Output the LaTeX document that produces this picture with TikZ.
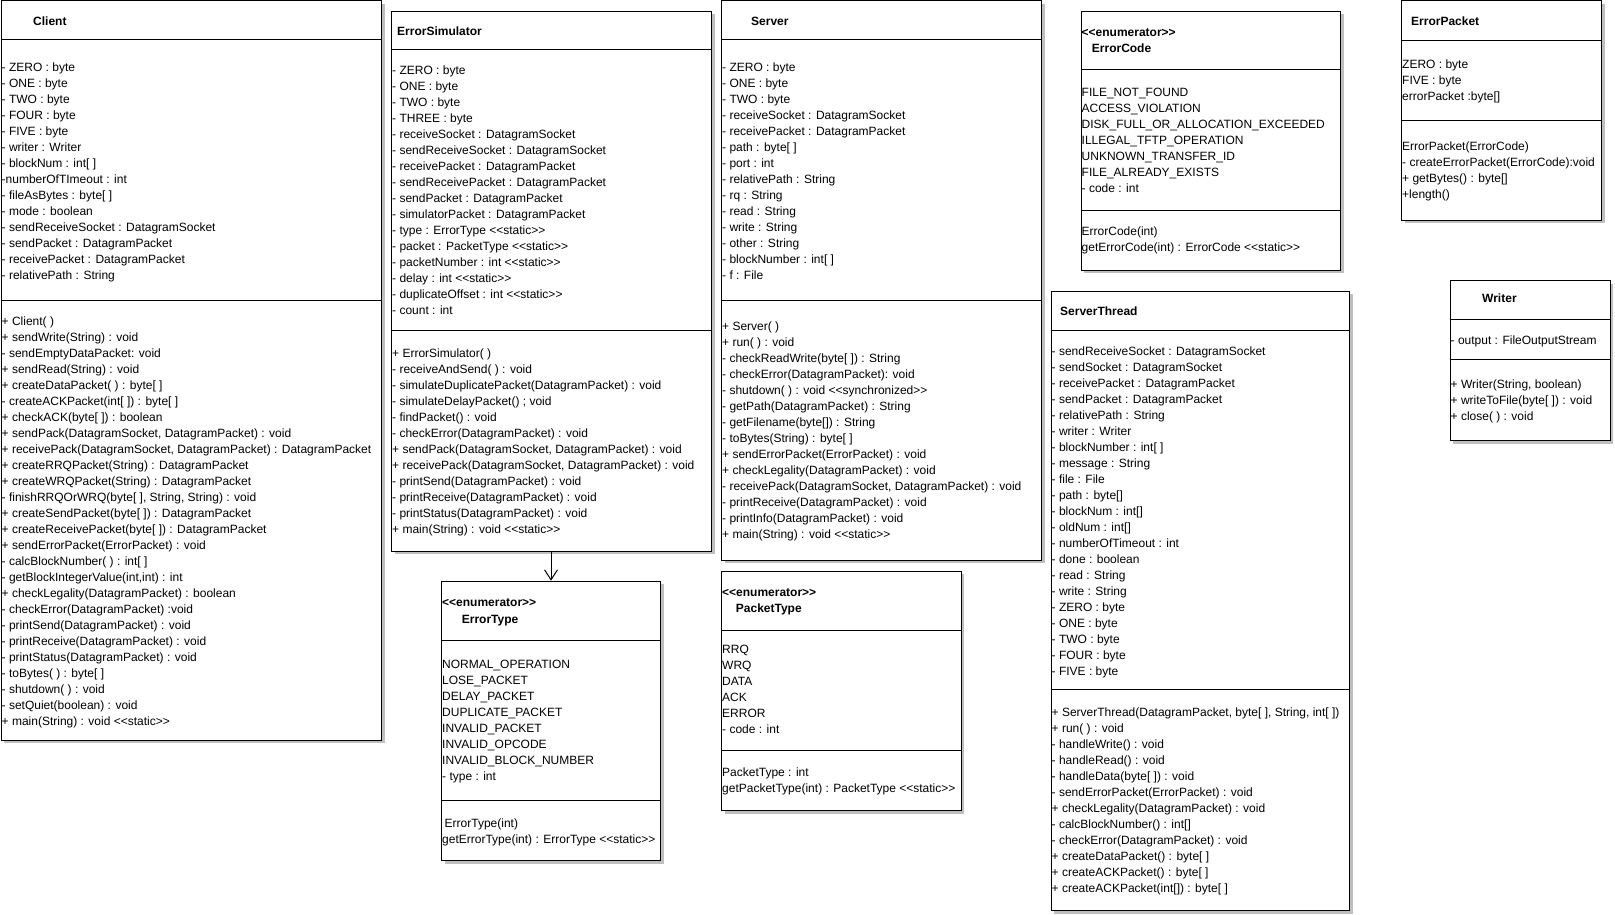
\documentclass[tikz,border=0pt]{standalone}
\usepackage{fontspec}
\newfontfamily\umlfont{Liberation Sans}
\usetikzlibrary{arrows.meta,shadows}
\newcommand\umllt{<\kern0pt<}
\newcommand\umlgt{>\kern0pt>}
\newcommand\umlst{\umllt static\umlgt}
\newcommand\umldiv[2]{\draw[divline] (#1.west |- 0,#2) -- (#1.east |- 0,#2);}
\begin{document}
\begin{tikzpicture}[x=1pt,y=-1pt,
  umlbox/.style={draw=black, line width=1pt, fill=white, inner sep=0pt, anchor=north west,
    drop shadow={shadow xshift=3pt, shadow yshift=-3pt, fill=black!25, opacity=1}},
  txt/.style={anchor=north west, inner sep=0pt, align=left, font=\umlfont\fontsize{12}{16}\selectfont},
  ttl/.style={anchor=base west, inner sep=0pt, font=\umlfont\bfseries\fontsize{12}{16}\selectfont},
  divline/.style={line width=1pt},
  arrowline/.style={line width=1pt, -{Straight Barb[length=10pt,width=13pt]}}]
\path[fill=white] (0,0) rectangle (1615,915);
\useasboundingbox (0,0) rectangle (1615,915);

% ---------------- Client
\node[umlbox, minimum width=380.5pt, minimum height=739pt] (client) at (0.5,0.5) {};
\umldiv{client}{40}
\umldiv{client}{300.5}
\node[ttl] (client-t) at (33,25.5) {Client};
\node[txt] (client-a) at (1.5,62.3) {- ZERO : byte\\- ONE : byte\\- TWO : byte\\- FOUR : byte\\- FIVE : byte\\- writer : Writer\\- blockNum : int[ ]\\-numberOfTImeout : int\\- fileAsBytes : byte[ ]\\- mode : boolean\\- sendReceiveSocket : DatagramSocket\\- sendPacket : DatagramPacket\\- receivePacket : DatagramPacket\\- relativePath : String};
\node[txt] (client-m) at (1.5,316.3) {+ Client( )\\+ sendWrite(String) : void\\- sendEmptyDataPacket: void\\+ sendRead(String) : void\\+ createDataPacket( ) : byte[ ]\\- createACKPacket(int[ ]) : byte[ ]\\+ checkACK(byte[ ]) : boolean\\+ sendPack(DatagramSocket, DatagramPacket) : void\\+ receivePack(DatagramSocket, DatagramPacket) : DatagramPacket\\+ createRRQPacket(String) : DatagramPacket\\+ createWRQPacket(String) : DatagramPacket\\- finishRRQOrWRQ(byte[ ], String, String) : void\\+ createSendPacket(byte[ ]) : DatagramPacket\\+ createReceivePacket(byte[ ]) : DatagramPacket\\+ sendErrorPacket(ErrorPacket) : void\\- calcBlockNumber( ) : int[ ]\\- getBlockIntegerValue(int,int) : int\\+ checkLegality(DatagramPacket) : boolean\\- checkError(DatagramPacket) :void\\- printSend(DatagramPacket) : void\\- printReceive(DatagramPacket) : void\\- printStatus(DatagramPacket) : void\\- toBytes( ) : byte[ ]\\- shutdown( ) : void\\- setQuiet(boolean) : void\\+ main(String) : void \umlst};

% ---------------- ErrorSimulator
\node[umlbox, minimum width=320pt, minimum height=539.8pt] (errsim) at (391,10.7) {};
\umldiv{errsim}{50}
\umldiv{errsim}{330.7}
\node[ttl] (errsim-t) at (397,35.7) {ErrorSimulator};
\node[txt] (errsim-a) at (392,66) {- ZERO : byte\\- ONE : byte\\- TWO : byte\\- THREE : byte\\- receiveSocket : DatagramSocket\\- sendReceiveSocket : DatagramSocket\\- receivePacket : DatagramPacket\\- sendReceivePacket : DatagramPacket\\- sendPacket : DatagramPacket\\- simulatorPacket : DatagramPacket\\- type : ErrorType \umlst\\- packet : PacketType \umlst\\- packetNumber : int \umlst\\- delay : int \umlst\\- duplicateOffset : int \umlst\\- count : int};
\node[txt] (errsim-m) at (392,348.3) {+ ErrorSimulator( )\\- receiveAndSend( ) : void\\- simulateDuplicatePacket(DatagramPacket) : void\\- simulateDelayPacket() ; void\\- findPacket() : void\\- checkError(DatagramPacket) : void\\+ sendPack(DatagramSocket, DatagramPacket) : void\\+ receivePack(DatagramSocket, DatagramPacket) : void\\- printSend(DatagramPacket) : void\\- printReceive(DatagramPacket) : void\\- printStatus(DatagramPacket) : void\\+ main(String) : void \umlst};

% ---------------- Server
\node[umlbox, minimum width=320pt, minimum height=559pt] (server) at (721,0.5) {};
\umldiv{server}{40}
\umldiv{server}{300.7}
\node[ttl] (server-t) at (751,25.7) {Server};
\node[txt] (server-a) at (722,63) {- ZERO : byte\\- ONE : byte\\- TWO : byte\\- receiveSocket : DatagramSocket\\- receivePacket : DatagramPacket\\- path : byte[ ]\\- port : int\\- relativePath : String\\- rq : String\\- read : String\\- write : String\\- other : String\\- blockNumber : int[ ]\\- f : File};
\node[txt] (server-m) at (722,322) {+ Server( )\\+ run( ) : void\\- checkReadWrite(byte[ ]) : String\\- checkError(DatagramPacket): void\\- shutdown( ) : void \umllt synchronized\umlgt\\- getPath(DatagramPacket) : String\\- getFilename(byte[]) : String\\- toBytes(String) : byte[ ]\\+ sendErrorPacket(ErrorPacket) : void\\+ checkLegality(DatagramPacket) : void\\- receivePack(DatagramSocket, DatagramPacket) : void\\- printReceive(DatagramPacket) : void\\- printInfo(DatagramPacket) : void\\+ main(String) : void \umlst};

% ---------------- ErrorType
\node[umlbox, minimum width=219pt, minimum height=279.3pt] (errtype) at (441,580.7) {};
\umldiv{errtype}{640}
\umldiv{errtype}{800.7}
\node[ttl] (errtype-s) at (442,606.5) {\umllt enumerator\umlgt};
\node[ttl] (errtype-t) at (461.7,623) {ErrorType};
\node[txt] (errtype-a) at (442,660.3) {NORMAL\_OPERATION\\LOSE\_PACKET\\DELAY\_PACKET\\DUPLICATE\_PACKET\\INVALID\_PACKET\\INVALID\_OPCODE\\INVALID\_BLOCK\_NUMBER\\- type : int};
\node[txt] (errtype-m) at (442,818.3) {\hspace{2.5pt}ErrorType(int)\\getErrorType(int) : ErrorType \umlst};

% ---------------- PacketType
\node[umlbox, minimum width=239.5pt, minimum height=239.5pt] (pkttype) at (721,570.5) {};
\umldiv{pkttype}{630}
\umldiv{pkttype}{750.5}
\node[ttl] (pkttype-s) at (722,596.5) {\umllt enumerator\umlgt};
\node[ttl] (pkttype-t) at (735.7,612.5) {PacketType};
\node[txt] (pkttype-a) at (722,645.3) {RRQ\\WRQ\\DATA\\ACK\\ERROR\\- code : int};
\node[txt] (pkttype-m) at (722,767.3) {PacketType : int\\getPacketType(int) : PacketType \umlst};

% ---------------- ErrorCode
\node[umlbox, minimum width=259.5pt, minimum height=258.8pt] (errcode) at (1080.5,10.7) {};
\umldiv{errcode}{70}
\umldiv{errcode}{210}
\node[ttl] (errcode-s) at (1081.5,36.3) {\umllt enumerator\umlgt};
\node[ttl] (errcode-t) at (1091.7,52.3) {ErrorCode};
\node[txt] (errcode-a) at (1081.5,88.3) {FILE\_NOT\_FOUND\\ACCESS\_VIOLATION\\DISK\_FULL\_OR\_ALLOCATION\_EXCEEDED\\ILLEGAL\_TFTP\_OPERATION\\UNKNOWN\_TRANSFER\_ID\\FILE\_ALREADY\_EXISTS\\- code : int};
\node[txt] (errcode-m) at (1081.5,226.3) {ErrorCode(int)\\getErrorCode(int) : ErrorCode \umlst};

% ---------------- ServerThread
\node[umlbox, minimum width=298.5pt, minimum height=619.3pt] (srvthread) at (1050.5,290.7) {};
\umldiv{srvthread}{330.5}
\umldiv{srvthread}{689.3}
\node[ttl] (srvthread-t) at (1060,315) {ServerThread};
\node[txt] (srvthread-a) at (1051.5,346.3) {- sendReceiveSocket : DatagramSocket\\- sendSocket : DatagramSocket\\- receivePacket : DatagramPacket\\- sendPacket : DatagramPacket\\- relativePath : String\\- writer : Writer\\- blockNumber : int[ ]\\- message : String\\- file : File\\- path : byte[]\\- blockNum : int[]\\- oldNum : int[]\\- numberOfTimeout : int\\- done : boolean\\- read : String\\- write : String\\- ZERO : byte\\- ONE : byte\\- TWO : byte\\- FOUR : byte\\- FIVE : byte};
\node[txt] (srvthread-m) at (1051.5,707.8) {+ ServerThread(DatagramPacket, byte[ ], String, int[ ])\\+ run( ) : void\\- handleWrite() : void\\- handleRead() : void\\- handleData(byte[ ]) : void\\- sendErrorPacket(ErrorPacket) : void\\+ checkLegality(DatagramPacket) : void\\- calcBlockNumber() : int[]\\- checkError(DatagramPacket) : void\\+ createDataPacket() : byte[ ]\\+ createACKPacket() : byte[ ]\\+ createACKPacket(int[]) : byte[ ]};

% ---------------- ErrorPacket
\node[umlbox, minimum width=200pt, minimum height=219pt] (errpkt) at (1401,0.5) {};
\umldiv{errpkt}{40.3}
\umldiv{errpkt}{120.5}
\node[ttl] (errpkt-t) at (1411,26) {ErrorPacket};
\node[txt] (errpkt-a) at (1402,59.3) {ZERO : byte\\FIVE : byte\\errorPacket :byte[]};
\node[txt] (errpkt-m) at (1402,141.6) {ErrorPacket(ErrorCode)\\- createErrorPacket(ErrorCode):void\\+ getBytes() : byte[]\\+length()};

% ---------------- Writer
\node[umlbox, minimum width=160pt, minimum height=159.7pt] (writer) at (1449.5,280.3) {};
\umldiv{writer}{319.5}
\umldiv{writer}{359.5}
\node[ttl] (writer-t) at (1482,302) {Writer};
\node[txt] (writer-a) at (1450.5,335.3) {- output : FileOutputStream};
\node[txt] (writer-m) at (1450.5,379.5) {+ Writer(String, boolean)\\+ writeToFile(byte[ ]) : void\\+ close( ) : void};

% ---------------- connector
\draw[arrowline] (errsim.south -| errtype.north) -- (errtype.north);
\end{tikzpicture}
\end{document}
